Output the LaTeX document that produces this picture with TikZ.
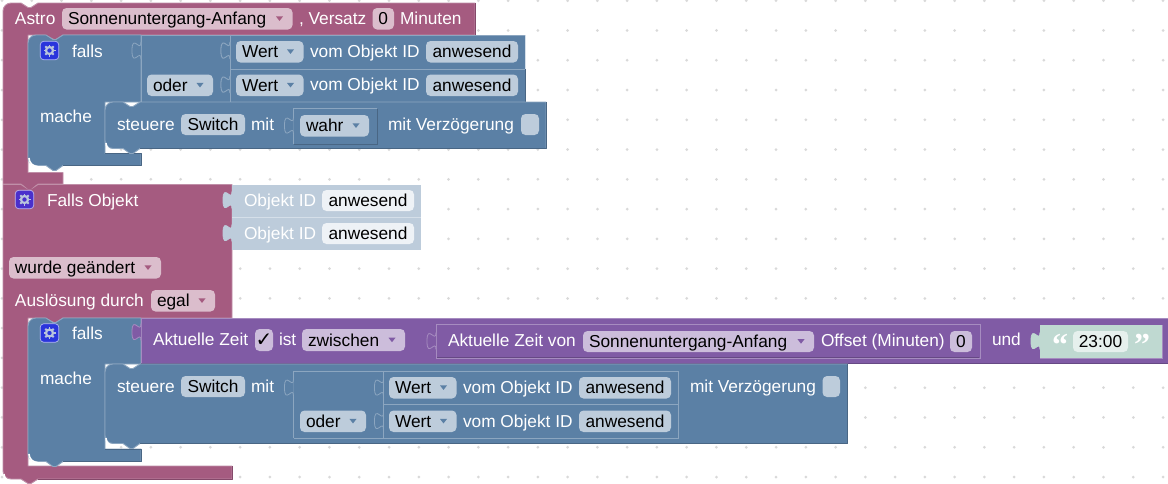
\documentclass[tikz,border=0pt]{standalone}
\usepackage{fontspec}
\setmainfont{Liberation Sans}
\newfontfamily\qfont{Liberation Serif}
\newfontfamily\djv{DejaVu Sans}
\definecolor{cr}{HTML}{A55B80}\definecolor{crL}{HTML}{C08FA8}\definecolor{crD}{HTML}{84496A}\definecolor{crF}{HTML}{DBBDCC}
\definecolor{bl}{HTML}{5B80A5}\definecolor{blL}{HTML}{8CA6C0}\definecolor{blD}{HTML}{496684}\definecolor{blF}{HTML}{BDCCDB}
\definecolor{pu}{HTML}{805BA5}\definecolor{puL}{HTML}{A68CC0}\definecolor{puD}{HTML}{664984}\definecolor{puF}{HTML}{CCBDDB}
\definecolor{gr}{HTML}{BFD9D1}\definecolor{grF}{HTML}{E6F0ED}
\definecolor{lbL}{HTML}{D5DFE9}\definecolor{lbF}{HTML}{EEF2F6}
\definecolor{gearB}{HTML}{2A35DC}\definecolor{gearP}{HTML}{4A30CC}\definecolor{gearT}{HTML}{B9C4DC}
\newcounter{nn}
\tikzset{
  every node/.style={inner sep=0pt,outer sep=0pt,font=\fontsize{17.3}{20}\selectfont},
  lbl/.style={anchor=base west,text=white},
  lblk/.style={anchor=base west,text=black},
  blockedge/.style={line width=0.9pt,line join=round},
  pill/.style={rounded corners=4.5pt},
  griddot/.style={fill=black!15}
}
\newcommand{\tx}[3]{\stepcounter{nn}\node[lbl] (t\thenn) at (#1,#2+6) {#3};}
\newcommand{\fld}[6]{\stepcounter{nn}\node[fill=#5,pill,minimum width=#2pt-#1pt,minimum height=#4pt-#3pt,anchor=north west] (f\thenn) at (#1,#3) {};
  \node[anchor=base,text=black] (ft\thenn) at ({(#1+#2)/2},{(#3+#4)/2+6}) {#6};}
\newcommand{\dd}[7]{\stepcounter{nn}\node[fill=#5,pill,minimum width=#2pt-#1pt,minimum height=#4pt-#3pt,anchor=north west] (f\thenn) at (#1,#3) {};
  \node[lblk] (ft\thenn) at (#1+6,{(#3+#4)/2+6}) {#7};
  \fill[#6] (#2-16.5,{(#3+#4)/2-2.3}) -- ++(7,0) -- ++(-3.5,4.5) -- cycle;}
\newcommand{\tabb}[4]{\filldraw[fill=#3,draw=#4,line width=0.8pt] (#1,#2) .. controls (#1,#2+11.5) and (#1-9,#2-9.2) .. (#1-9,#2+8.6) .. controls (#1-9,#2+26.4) and (#1,#2+5.7) .. (#1,#2+17);}
\newcommand{\blk}[7]{\fill[#5] (#1,#2) rectangle (#3,#4);
  \draw[blockedge,#6] (#1,#4) -- (#1,#2) -- (#3,#2);
  \draw[blockedge,#7] (#1,#4) -- (#3,#4) -- (#3,#2);}
\newcommand{\frm}[6]{\draw[line width=0.8pt,#5] (#1,#4) -- (#1,#2) -- (#3,#2);
  \draw[line width=0.8pt,#6] (#1,#4) -- (#3,#4) -- (#3,#2);}
\newcommand{\gear}[3]{\stepcounter{nn}\node[fill=#3,draw=white!65!#3,line width=0.7pt,rounded corners=3.5pt,minimum size=18.5pt,anchor=center] (g\thenn) at (#1,#2) {};
  \draw[line width=2.2pt,gearT] (#1,#2) circle[radius=3.5];
  \foreach \a in {0,45,...,315}{\draw[line width=1.8pt,gearT] (#1,#2) ++(\a:4) -- ++(\a:2);}}
\begin{document}
\begin{tikzpicture}[x=1pt,y=-1pt]
\useasboundingbox (0,0) rectangle (1168,483);
\fill[white] (0,0) rectangle (1168,483);
\foreach \i in {0,...,39}\foreach \j in {0,...,16}{\fill[griddot] ({2+29.77*\i},{0.7+29.77*\j}) circle[radius=1.5];}

% ---------- Astro block
\filldraw[fill=cr,draw=crL,line width=0.9pt,line join=round]
  (3,11) arc[start angle=180,end angle=270,radius=8] -- (21,3) -- (28,7.5) -- (31,7.5) -- (38,3) -- (475,3) -- (475,35) -- (63,35) -- (55,40) -- (45,35) -- (28,35) -- (28,172.5) -- (63,172.5) -- (63,184) -- (38,184) -- (31,189) -- (28,189) -- (21,184) -- (3,184) -- cycle;
\draw[blockedge,crD] (475,3) -- (475,35);
\tx{15}{18}{Astro}
\dd{62}{292.5}{8}{29.5}{crF}{cr}{Sonnenuntergang-Anfang}
\tx{299}{18}{, Versatz}
\fld{372.5}{394}{8}{29.5}{crF}{0}
\tx{400}{18}{Minuten}

% ---------- falls block 1
\filldraw[fill=bl,draw=blL,line width=0.9pt,line join=round]
  (28,43) arc[start angle=180,end angle=270,radius=8] -- (46,35) -- (53,39.5) -- (56,39.5) -- (63,35) -- (141,35) -- (141,102) -- (105,102) -- (105,153.5) -- (141,153.5) -- (141,165.5) -- (63,165.5) -- (56,170.5) -- (53,170.5) -- (46,165.5) -- (36,165.5) arc[start angle=90,end angle=180,radius=8] -- cycle;
\draw[line width=1.6pt,white] (29,158) arc[start angle=180,end angle=90,radius=8.5];
\draw[blockedge,blD] (105,153.5) -- (141,153.5) -- (141,165.5) -- (63,165.5);
\gear{49.5}{50.5}{gearB}
\tx{72}{51}{falls}
\tx{40}{116}{mache}
% oder block
\blk{141}{35}{230}{102}{bl}{blL}{blD}
\tabb{141}{42}{bl}{blL}
\tabb{230}{42}{bl}{blL}
\tabb{230}{76}{bl}{blL}
\dd{147}{213}{74.5}{96}{blF}{bl}{oder}
% Wert rows
\blk{230}{35}{525}{69}{bl}{blL}{lbL}
\blk{230}{69}{525}{102}{bl}{blL}{blD}
\tabb{230}{42}{bl}{blL}
\tabb{230}{76}{bl}{blL}
\dd{236}{303.5}{41}{62.5}{blF}{bl}{Wert}
\tx{310}{51.5}{vom Objekt ID}
\fld{426}{518}{41}{62.5}{blF}{anwesend}
\dd{236}{303.5}{74.5}{96}{blF}{bl}{Wert}
\tx{310}{84.5}{vom Objekt ID}
\fld{426}{518}{74.5}{96}{blF}{anwesend}
% steuere block
\filldraw[fill=bl,draw=blL,line width=0.9pt,line join=round]
  (105,110) arc[start angle=180,end angle=270,radius=8] -- (123,102) -- (130,106.5) -- (133,106.5) -- (140,102) -- (546,102) -- (546,148.5) -- (140,148.5) -- (133,153.5) -- (130,153.5) -- (123,148.5) -- (113,148.5) arc[start angle=90,end angle=180,radius=8] -- cycle;
\draw[blockedge,blD] (546,102) -- (546,148.5) -- (140,148.5);
\draw[line width=1.6pt,white] (106,143) arc[start angle=180,end angle=90,radius=8];
\tx{117}{124}{steuere}
\fld{181}{245}{114}{135}{blF}{Switch}
\tx{251}{124}{mit}
\frm{293.5}{108.5}{377}{144}{blL}{blD}
\tabb{293.5}{117}{bl}{blL}
\dd{300}{369}{115}{136.5}{blF}{bl}{wahr}
\tx{388}{124}{mit Verzögerung}
\fld{521}{539}{114}{135}{blF}{}

% ---------- Falls Objekt block
\filldraw[fill=cr,draw=crL,line width=0.9pt,line join=round]
  (3,184.5) -- (21,184.5) -- (28,189) -- (31,189) -- (38,184.5) -- (232,184.5) -- (232,318) -- (63,318) -- (55,323) -- (45,318) -- (28,318) -- (28,466) -- (232,466) -- (232,479) -- (38,479) -- (31,483.5) -- (28,483.5) -- (21,479) -- (11,479) arc[start angle=90,end angle=180,radius=8] -- cycle;
\draw[blockedge,crD] (232,466) -- (232,479) -- (38,479);
\draw[line width=1.6pt,white] (4,474) arc[start angle=180,end angle=90,radius=8];
\fill[cr] (21,183) -- (28,189) -- (31,189) -- (38,183) -- cycle;
\gear{24.5}{199.5}{gearP}
\tx{47}{200}{Falls Objekt}
% light object id blocks
\fill[blF] (232,184.5) rectangle (421,250);
\draw[line width=0.8pt,lbL] (232,217) -- (421,217);
\tabb{232}{191.5}{blF}{blF}
\tabb{232}{224.5}{blF}{blF}
\tx{244}{200}{Objekt ID}
\fld{322}{414}{190}{211}{lbF}{anwesend}
\tx{244}{233}{Objekt ID}
\fld{322}{414}{223}{244}{lbF}{anwesend}
\dd{9}{161}{257}{278.5}{crF}{cr}{wurde geändert}
\tx{15}{300.5}{Auslösung durch}
\dd{151}{215}{290}{311.5}{crF}{cr}{egal}

% ---------- falls block 2
\filldraw[fill=bl,draw=blL,line width=0.9pt,line join=round]
  (28,326) arc[start angle=180,end angle=270,radius=8] -- (46,318) -- (53,322.5) -- (56,322.5) -- (63,318) -- (141,318) -- (141,364) -- (105,364) -- (105,449) -- (141,449) -- (141,461.5) -- (63,461.5) -- (56,466.5) -- (53,466.5) -- (46,461.5) -- (36,461.5) arc[start angle=90,end angle=180,radius=8] -- cycle;
\draw[blockedge,blD] (105,449) -- (141,449) -- (141,461.5) -- (63,461.5);
\draw[line width=1.6pt,white] (29,454) arc[start angle=180,end angle=90,radius=8.5];
\gear{49.5}{333}{gearB}
\tx{72}{333.5}{falls}
\tx{40}{378}{mache}
% purple condition
\blk{141}{318}{1168}{363.5}{pu}{puL}{puD}
\tabb{141}{323.5}{pu}{puL}
\tx{153}{339}{Aktuelle Zeit}
\stepcounter{nn}\node[fill=puF,pill,minimum width=18pt,minimum height=22pt,anchor=north west] (chk) at (255,329) {};
\node[anchor=center,text=black,font=\djv\fontsize{20}{20}\selectfont] (chkm) at (264,340) {✓};
\tx{279}{339}{ist}
\dd{302}{405}{329}{351}{puF}{pu}{zwischen}
\frm{436}{324}{980}{358.5}{puL}{puL}
\draw[line width=0.8pt,puD] (437,357) -- (979,357);
\tabb{436}{332.5}{pu}{puL}
\tx{448}{340}{Aktuelle Zeit von}
\dd{583}{814}{331}{352}{puF}{pu}{Sonnenuntergang-Anfang}
\tx{821}{340}{Offset (Minuten)}
\fld{950}{972}{331}{352}{puF}{0}
\tx{992}{339}{und}
% text block
\fill[gr] (1040,324.5) rectangle (1162.5,358.5);
\draw[line width=0.8pt,puL] (1040,358.5) -- (1162.5,358.5) -- (1162.5,324.5);
\tabb{1040}{332.5}{gr}{gr}
\node[anchor=base,text=white,font=\qfont\bfseries\fontsize{32}{32}\selectfont] (q1) at (1060,355) {“};
\fld{1073}{1128}{331}{352}{grF}{23:00}
\node[anchor=base,text=white,font=\qfont\bfseries\fontsize{32}{32}\selectfont] (q2) at (1142,355) {”};
% steuere block 2
\filldraw[fill=bl,draw=blL,line width=0.9pt,line join=round]
  (105,372) arc[start angle=180,end angle=270,radius=8] -- (123,364) -- (130,368.5) -- (133,368.5) -- (140,364) -- (847.5,364) -- (847.5,443.5) -- (140,443.5) -- (133,448.5) -- (130,448.5) -- (123,443.5) -- (113,443.5) arc[start angle=90,end angle=180,radius=8] -- cycle;
\draw[blockedge,blD] (847.5,364) -- (847.5,443.5) -- (140,443.5);
\draw[line width=1.6pt,white] (106,438) arc[start angle=180,end angle=90,radius=8];
\tx{117}{386}{steuere}
\fld{181}{245}{376}{397}{blF}{Switch}
\tx{251}{386}{mit}
% nested oder block
\frm{293.5}{371}{383.5}{438}{blL}{blL}
\tabb{293.5}{379}{bl}{blL}
\tabb{383.5}{379}{bl}{blL}
\tabb{383.5}{412.5}{bl}{blL}
\dd{300}{366}{410.5}{432}{blF}{bl}{oder}
\frm{383.5}{371}{678}{404.5}{blL}{blL}
\frm{383.5}{404.5}{678}{438}{blL}{blL}
\dd{389}{456.5}{377}{398.5}{blF}{bl}{Wert}
\tx{463}{387.5}{vom Objekt ID}
\fld{579}{671}{377}{398.5}{blF}{anwesend}
\dd{389}{456.5}{410.5}{432}{blF}{bl}{Wert}
\tx{463}{421}{vom Objekt ID}
\fld{579}{671}{410.5}{432}{blF}{anwesend}
\tx{690}{386}{mit Verzögerung}
\fld{822.5}{840}{376}{397}{blF}{}
\end{tikzpicture}
\end{document}
